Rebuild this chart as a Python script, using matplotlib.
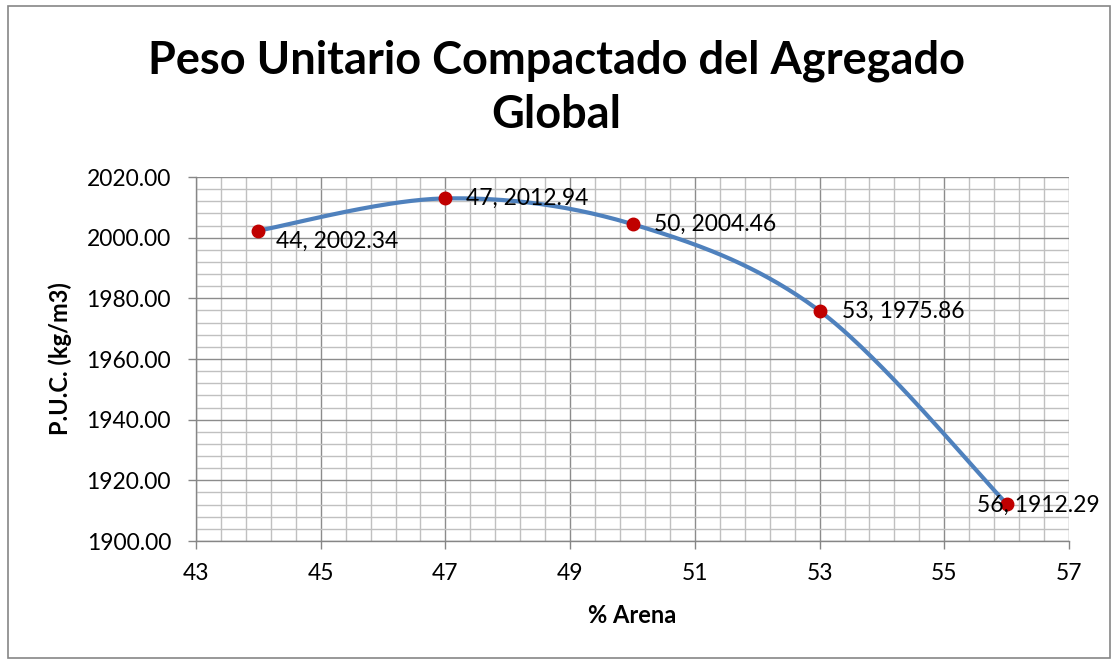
import numpy as np
import matplotlib
matplotlib.use("Agg")
import matplotlib.pyplot as plt
from matplotlib.patches import Rectangle
from matplotlib.ticker import FixedLocator, MultipleLocator, FormatStrFormatter

plt.rcParams['font.family'] = ['Lato', 'DejaVu Sans']

# Mix data: sand percentage vs. compacted unit weight
arena = [44, 47, 50, 53, 56]
puc = [2002.34, 2012.94, 2004.46, 1975.86, 1912.29]
title = "Peso Unitario Compactado del Agregado\nGlobal"
xlabel = "% Arena"
ylabel = "P.U.C. (kg/m3)"


def smooth_curve(xs, ys, n=60):
    """Bezier smoothing through every point (spreadsheet-style smoothed line)."""
    p = np.column_stack([xs, ys]).astype(float)
    ext = np.vstack([p[0], p, p[-1]])
    out = []
    for i in range(len(p) - 1):
        p0, p1, p2, p3 = ext[i], ext[i + 1], ext[i + 2], ext[i + 3]
        c1 = p1 + (p2 - p0) / 6.0
        c2 = p2 - (p3 - p1) / 6.0
        t = np.linspace(0, 1, n)[:, None]
        seg = ((1 - t) ** 3) * p1 + 3 * ((1 - t) ** 2) * t * c1 + 3 * (1 - t) * t ** 2 * c2 + t ** 3 * p2
        out.append(seg if i == 0 else seg[1:])
    s = np.vstack(out)
    return s[:, 0], s[:, 1]


fig = plt.figure(figsize=(11.12, 6.62), dpi=100)
ax = fig.add_axes([196 / 1112, 1 - 541 / 662, (1069 - 196) / 1112, (541 - 177) / 662])

ax.set_xlim(43, 57)
ax.set_ylim(1900, 2020)
ax.xaxis.set_major_locator(FixedLocator(np.arange(43, 57.5, 2)))
ax.xaxis.set_minor_locator(FixedLocator(43 + 0.4 * np.arange(36)))
ax.yaxis.set_major_locator(MultipleLocator(20))
ax.yaxis.set_minor_locator(MultipleLocator(4))
ax.yaxis.set_major_formatter(FormatStrFormatter('%.2f'))

ax.grid(which='minor', color='#c0c0c0', linewidth=1.0, zorder=0)
ax.grid(which='major', color='#8c8c8c', linewidth=1.0, zorder=0)
ax.set_axisbelow(True)

for side in ['top', 'right']:
    ax.spines[side].set_visible(False)
for side in ['left', 'bottom']:
    ax.spines[side].set_color('#868686')
    ax.spines[side].set_linewidth(1.0)

ax.tick_params(which='major', direction='out', length=6, width=1.0, color='#868686',
               labelsize=16.5, labelcolor='black')
ax.tick_params(axis='x', which='major', pad=10)
ax.tick_params(axis='y', which='major', pad=12)
ax.tick_params(which='minor', length=0)

sx, sy = smooth_curve(arena, puc)
ax.plot(sx, sy, color='#4f81bd', linewidth=3.0, solid_capstyle='round', zorder=3)
ax.plot(arena, puc, linestyle='none', marker='o', markersize=9, color='#c00000', zorder=4)

offsets = [(18, -11), (21, 0), (22, 0), (22, 0), (-30, -2)]
for x, y, (dx, dy) in zip(arena, puc, offsets):
    ax.annotate(f"{x}, {y:.2f}", xy=(x, y), xytext=(dx, dy), textcoords='offset pixels',
                ha='left', va='center', fontsize=16.5, color='black', zorder=5,
                annotation_clip=False)

ax.set_xlabel(xlabel, fontsize=17, fontweight='bold', labelpad=14)
ax.set_ylabel(ylabel, fontsize=17, fontweight='bold', labelpad=10)

fig.text(0.5, 1 - 88 / 662, title, ha='center', va='center', fontsize=32.5,
         fontweight='bold', linespacing=1.35)

fig.patches.append(Rectangle((8 / 1112, 4 / 662), (1110 - 8) / 1112, (656 - 4) / 662,
                             transform=fig.transFigure, fill=False,
                             edgecolor='#868686', linewidth=1.2))

fig.savefig("out.png", dpi=100)
